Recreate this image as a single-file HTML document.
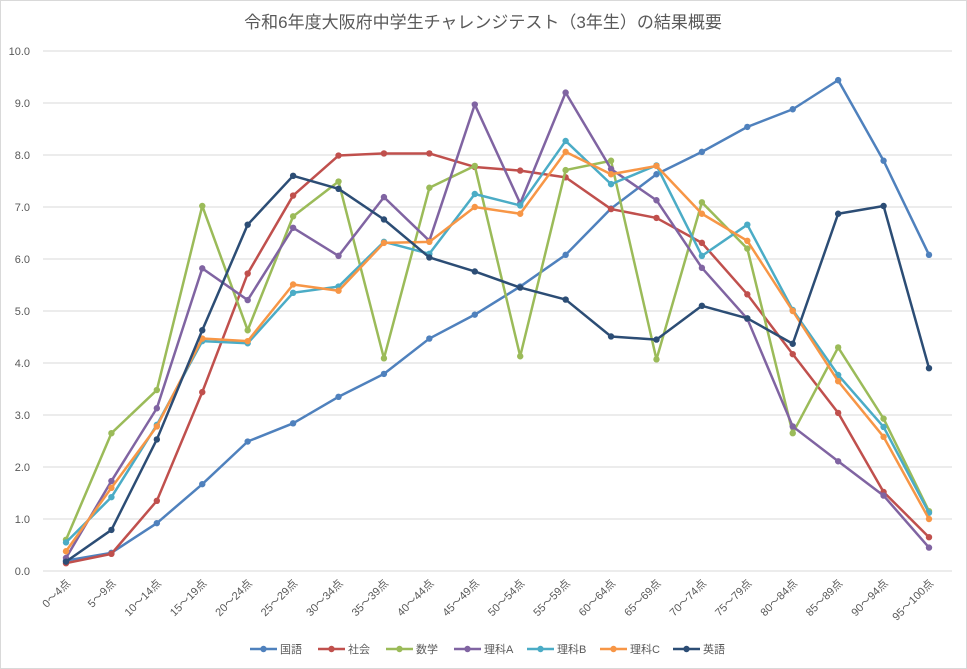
<!DOCTYPE html>
<html><head><meta charset="utf-8"><style>
body{margin:0;background:#fff}
svg{display:block;font-family:"Liberation Sans","Noto Sans CJK JP",sans-serif}
</style></head><body>
<svg id="c" width="967" height="669" xmlns="http://www.w3.org/2000/svg">
<rect x="0.5" y="0.5" width="966" height="668" fill="#fff" stroke="#d9d9d9"/>
<text x="483" y="28" text-anchor="middle" font-size="17" fill="#595959">令和6年度大阪府中学生チャレンジテスト（3年生）の結果概要</text>
</svg>
<script>
const s=document.getElementById('c'),NS='http://www.w3.org/2000/svg';
function el(t,a,txt){const e=document.createElementNS(NS,t);for(const k in a)e.setAttribute(k,a[k]);if(txt)e.textContent=txt;s.appendChild(e);return e;}
const y0=571,py=52,x0=66,dx=(929-66)/19;
for(let i=0;i<=10;i++){const y=y0-i*py;el('line',{x1:43,x2:952,y1:y,y2:y,stroke:'#d9d9d9','stroke-width':1});
el('text',{x:30,y:y+4,'text-anchor':'end','font-size':11,fill:'#595959'},i.toFixed(1));}
const cats=['0〜4点','5〜9点','10〜14点','15〜19点','20〜24点','25〜29点','30〜34点','35〜39点','40〜44点','45〜49点','50〜54点','55〜59点','60〜64点','65〜69点','70〜74点','75〜79点','80〜84点','85〜89点','90〜94点','95〜100点'];
cats.forEach((c,i)=>{const x=x0+i*dx+5,y=584;el('text',{x:x,y:y,'text-anchor':'end','font-size':11,fill:'#595959',transform:`rotate(-45 ${x} ${y})`},c);});
const S=[
['国語','#4f81bd',[0.2,0.35,0.92,1.67,2.49,2.84,3.35,3.79,4.47,4.93,5.47,6.08,6.97,7.63,8.06,8.54,8.88,9.44,7.89,6.08]],
['社会','#c0504d',[0.15,0.33,1.35,3.44,5.72,7.22,7.99,8.03,8.03,7.77,7.7,7.57,6.96,6.79,6.31,5.32,4.17,3.04,1.52,0.65]],
['数学','#9bbb59',[0.6,2.65,3.48,7.02,4.63,6.82,7.49,4.09,7.37,7.79,4.13,7.71,7.89,4.07,7.09,6.2,2.65,4.3,2.93,1.15]],
['理科A','#8064a2',[0.25,1.73,3.13,5.82,5.21,6.6,6.06,7.19,6.35,8.97,7.07,9.2,7.73,7.13,5.83,4.85,2.78,2.11,1.45,0.45]],
['理科B','#4bacc6',[0.55,1.42,2.81,4.42,4.38,5.35,5.47,6.33,6.1,7.25,7.03,8.27,7.44,7.8,6.06,6.66,5.02,3.77,2.77,1.12]],
['理科C','#f79646',[0.38,1.6,2.78,4.47,4.42,5.51,5.39,6.31,6.33,7.0,6.87,8.06,7.63,7.79,6.87,6.35,5.0,3.65,2.58,1.0]],
['英語','#2c4d75',[0.18,0.79,2.53,4.63,6.66,7.6,7.35,6.76,6.03,5.76,5.45,5.22,4.51,4.45,5.1,4.86,4.37,6.87,7.02,3.9]]];
S.forEach(([n,c,d])=>{const pts=d.map((v,i)=>[x0+i*dx,y0-v*py]);
el('polyline',{points:pts.map(p=>p.join(',')).join(' '),fill:'none',stroke:c,'stroke-width':2.5,'stroke-linejoin':'round'});
pts.forEach(p=>el('circle',{cx:p[0],cy:p[1],r:3.2,fill:c}));});
const lx=[250,318,386,454,527,600,673];
S.forEach(([n,c],i)=>{const x=lx[i];el('line',{x1:x,x2:x+27,y1:649,y2:649,stroke:c,'stroke-width':2.5});
el('circle',{cx:x+13.5,cy:649,r:3.2,fill:c});el('text',{x:x+30,y:653,'font-size':11,fill:'#595959'},n);});
</script>
</body></html>
